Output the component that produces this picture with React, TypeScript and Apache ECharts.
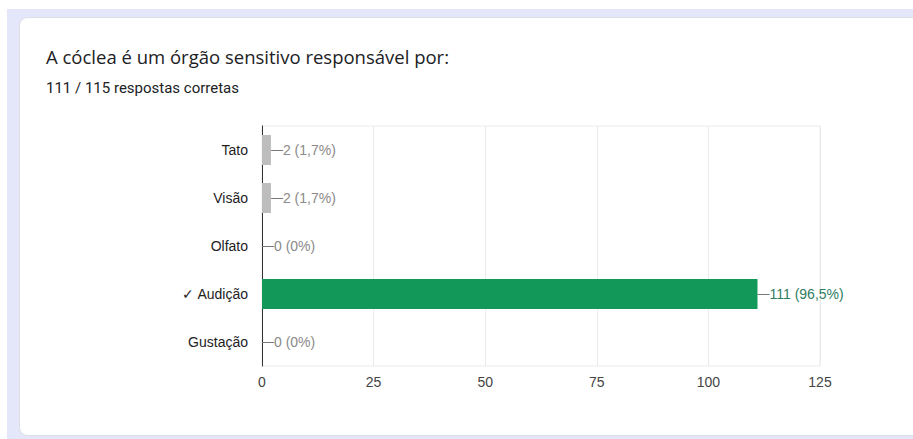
import React, { useEffect, useRef } from "react";
import * as echarts from "echarts";

const title = "A cóclea é um órgão sensitivo responsável por:";
const subtitle = "111 / 115 respostas corretas";
const categories = ["Tato", "Visão", "Olfato", "Audição", "Gustação"];
const values = [2, 2, 0, 111, 0];
const correctAnswer = "Audição";
const totalResponses = 115;
const xTicks = [0, 25, 50, 75, 100, 125];

const FONT = "'Liberation Sans', Arial, sans-serif";
const TITLE_FONT = "'Open Sans', Roboto, sans-serif";
const SUB_FONT = "Roboto, Arial, sans-serif";

function pct(v: number): string {
  if (v === 0) return "0%";
  return ((v / totalResponses) * 100).toFixed(1).replace(".", ",") + "%";
}

export default function App() {
  const ref = useRef<HTMLDivElement>(null);
  useEffect(() => {
    document.body.style.margin = "0";
    const chart = echarts.init(ref.current!, null, { renderer: "svg" });
    const labels = categories.map((c) => (c === correctAnswer ? "✓ " + c : c));
    chart.setOption({
      animation: false,
      backgroundColor: "#ffffff",
      graphic: [
        {
          type: "rect",
          z: -10,
          silent: true,
          shape: { x: 7, y: 9, width: 920, height: 440 },
          style: { fill: "#e4e6f9" },
        },
        {
          type: "rect",
          z: -9,
          silent: true,
          shape: { x: 19.5, y: 17.5, width: 920, height: 418, r: 8 },
          style: { fill: "#ffffff", stroke: "#dcdde6", lineWidth: 1 },
        },
        {
          type: "text",
          x: 46,
          y: 56,
          style: { text: title, font: `18.5px ${TITLE_FONT}`, fill: "#202124", verticalAlign: "middle" },
        },
        {
          type: "text",
          x: 46,
          y: 88,
          style: { text: subtitle, font: `15px ${SUB_FONT}`, fill: "#202124", verticalAlign: "middle" },
        },
      ],
      grid: { left: 262, right: 93, top: 126, bottom: 73, show: true, borderColor: "#ebebeb", borderWidth: 1 },
      xAxis: {
        type: "value",
        min: xTicks[0],
        max: xTicks[xTicks.length - 1],
        interval: 25,
        axisLine: { show: false },
        axisTick: { show: false },
        splitLine: { show: true, lineStyle: { color: "#ebebeb" } },
        axisLabel: { color: "#444", fontSize: 14, fontFamily: FONT, margin: 9 },
      },
      yAxis: {
        type: "category",
        inverse: true,
        data: labels,
        axisLine: { show: true, lineStyle: { color: "#333", width: 1 } },
        axisTick: { show: false },
        axisLabel: { color: "#222", fontSize: 14, fontFamily: FONT, margin: 14 },
      },
      series: [
        {
          type: "bar",
          barWidth: 30,
          data: values.map((v, i) => {
            const correct = categories[i] === correctAnswer;
            return {
              value: v,
              itemStyle: { color: correct ? "#12995a" : "#bdbdbd" },
              label: {
                show: true,
                position: "right",
                distance: 0,
                formatter: `{l|—}{t|${v} (${pct(v)})}`,
                rich: {
                  l: { color: "#777", fontSize: 12, fontFamily: FONT },
                  t: { color: correct ? "#2e7d62" : "#8a8a8a", fontSize: 14, fontFamily: FONT },
                },
              },
            };
          }),
        },
      ],
    });
    return () => chart.dispose();
  }, []);
  return <div ref={ref} style={{ position: "fixed", left: 0, top: 0, width: 913, height: 439 }} />;
}
